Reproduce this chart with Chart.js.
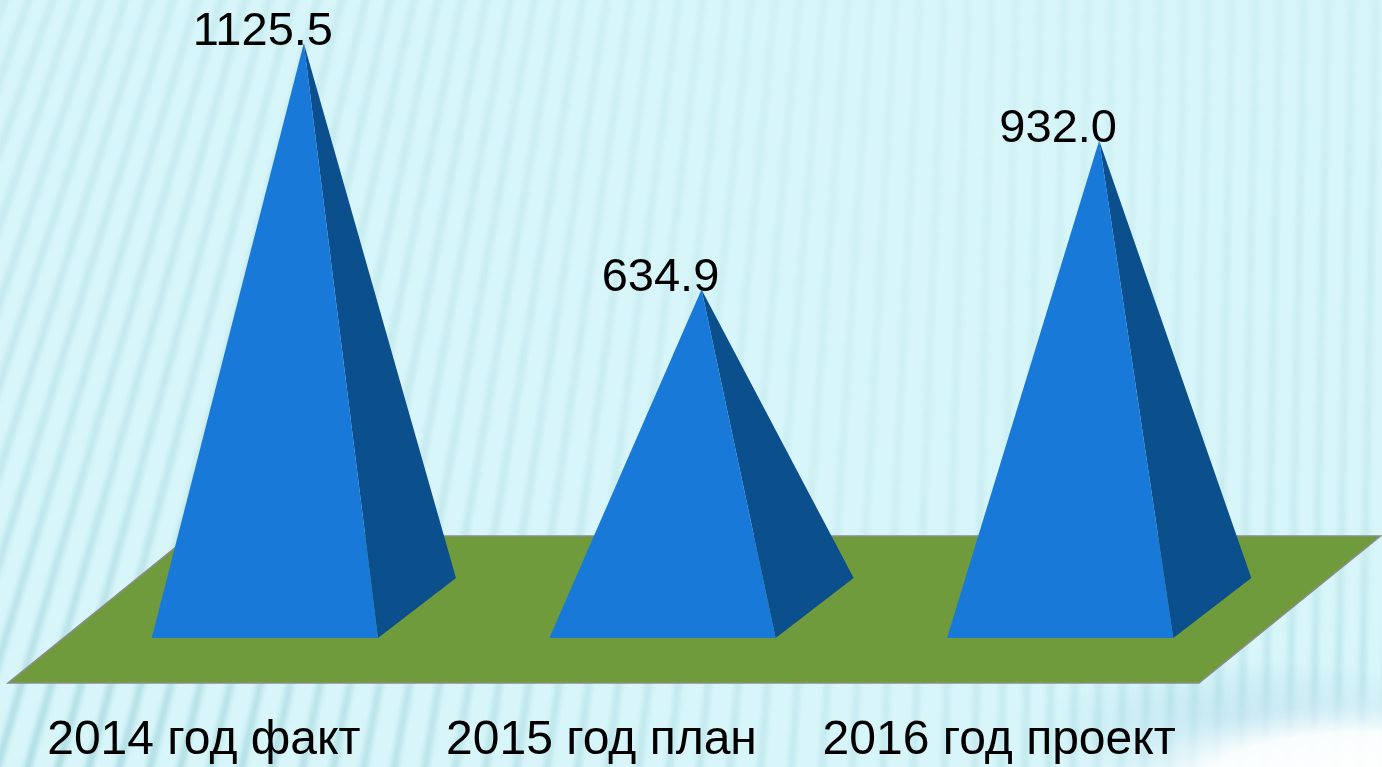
<!DOCTYPE html>
<html>
<head>
<meta charset="utf-8">
<script src="https://cdn.jsdelivr.net/npm/chart.js@4.4.1/dist/chart.umd.min.js"></script>
<style>
  html, body { margin: 0; padding: 0; background: #d7f5f8; }
  #wrap { width: 1382px; height: 767px; position: relative; }
</style>
</head>
<body>
<div id="wrap"><canvas id="c" width="1382" height="767"></canvas></div>
<script>
// ---- data ----
const categories = ['2014 год факт', '2015 год план', '2016 год проект'];
const values = [1125.5, 634.9, 932.0];
const yMin = 0;
const yMax = 1200;

// ---- colours ----
const frontColor = '#1879d9';
const sideColor = '#0b4f8c';
const floorColor = '#6f9b3d';
const floorEdge = '#8c8c8c';

const FONT = '"Liberation Sans", Arial, sans-serif';

const backgroundPlugin = {
  id: 'bg',
  beforeDraw(chart) {
    const ctx = chart.ctx;
    const W = chart.width, H = chart.height;
    ctx.save();
    ctx.fillStyle = '#d8f6f9';
    ctx.fillRect(0, 0, W, H);
    // stripes
    ctx.filter = 'blur(2.5px)';
    for (let xt = -400; xt < W + 60; xt += 24) {
      const xm = xt;
      const t = Math.max(0, 1 - Math.max(0, xm) / 1000);
      const s = 0.36 * t + 0.02;
      const xb = xt - s * H;
      let a;
      if (xm < 300) a = 0.42;
      else if (xm < 900) a = 0.42 - (xm - 300) / 600 * 0.24;
      else a = 0.18 + (xm - 900) / 500 * 0.1;
      const g = ctx.createLinearGradient(0, 0, 0, H);
      g.addColorStop(0, 'rgba(150,205,212,' + (a * 0.6).toFixed(3) + ')');
      g.addColorStop(0.6, 'rgba(150,205,212,' + (a * 0.9).toFixed(3) + ')');
      g.addColorStop(1, 'rgba(140,200,210,' + Math.min(1, a * 1.4).toFixed(3) + ')');
      ctx.strokeStyle = g;
      ctx.lineWidth = 7;
      ctx.beginPath();
      ctx.moveTo(xt, -10);
      ctx.lineTo(xb, H + 10);
      ctx.stroke();
    }
    ctx.filter = 'none';
    // bluish haze near bottom right
    ctx.save();
    ctx.translate(1250, 720);
    ctx.scale(1.8, 0.5);
    let hz = ctx.createRadialGradient(0, 0, 0, 0, 0, 120);
    hz.addColorStop(0, 'rgba(140,195,220,0.35)');
    hz.addColorStop(1, 'rgba(140,195,220,0)');
    ctx.fillStyle = hz;
    ctx.beginPath();
    ctx.arc(0, 0, 120, 0, Math.PI * 2);
    ctx.fill();
    ctx.restore();
    // bottom-right glow
    ctx.save();
    ctx.translate(1360, 790);
    ctx.scale(1.7, 0.6);
    let rg = ctx.createRadialGradient(0, 0, 0, 0, 0, 190);
    rg.addColorStop(0, 'rgba(255,255,255,1)');
    rg.addColorStop(0.5, 'rgba(255,255,255,0.9)');
    rg.addColorStop(0.75, 'rgba(220,240,248,0.4)');
    rg.addColorStop(1, 'rgba(220,240,248,0)');
    ctx.fillStyle = rg;
    ctx.beginPath();
    ctx.arc(0, 0, 190, 0, Math.PI * 2);
    ctx.fill();
    ctx.restore();
    ctx.restore();
  }
};

const pyramidPlugin = {
  id: 'pyramids',
  afterDatasetsDraw(chart) {
    const ctx = chart.ctx;
    const meta = chart.getDatasetMeta(0);
    const area = chart.chartArea;
    const yBase = chart.scales.y.getPixelForValue(0);
    ctx.save();
    // floor
    const fl = area.left - 97, fr = area.right - 99;
    const fy = yBase + 75, by = yBase - 72;
    const dxs = (fy - by) * 1.235;
    ctx.beginPath();
    ctx.moveTo(fl, fy);
    ctx.lineTo(fr, fy);
    ctx.lineTo(fr + dxs, by);
    ctx.lineTo(fl + dxs, by);
    ctx.closePath();
    ctx.fillStyle = floorColor;
    ctx.fill();
    ctx.lineWidth = 1.5;
    ctx.strokeStyle = floorEdge;
    ctx.stroke();

    // pyramids
    const dX = -39, dY = 30; // depth half-vector (towards viewer)
    meta.data.forEach((el, i) => {
      const x = el.x, top = el.y, base = el.base;
      const w = el.width / 2;
      const fL = [x - w + dX, base + dY];
      const fR = [x + w + dX, base + dY];
      const bR = [x + w - dX, base - dY];
      const apex = [x, top];
      ctx.beginPath();
      ctx.moveTo(fR[0], fR[1]);
      ctx.lineTo(bR[0], bR[1]);
      ctx.lineTo(apex[0], apex[1]);
      ctx.closePath();
      ctx.fillStyle = sideColor;
      ctx.fill();
      ctx.beginPath();
      ctx.moveTo(fL[0], fL[1]);
      ctx.lineTo(fR[0], fR[1]);
      ctx.lineTo(apex[0], apex[1]);
      ctx.closePath();
      ctx.fillStyle = frontColor;
      ctx.fill();
      ctx.fillStyle = '#000';
      ctx.font = '47px ' + FONT;
      ctx.textAlign = 'center';
      ctx.textBaseline = 'alphabetic';
      ctx.fillText(values[i].toFixed(1), x - 41, top + 2);
    });
    ctx.restore();
  }
};

new Chart(document.getElementById('c'), {
  type: 'bar',
  data: {
    labels: categories,
    datasets: [{
      data: values,
      backgroundColor: 'rgba(0,0,0,0)',
      borderWidth: 0,
      categoryPercentage: 1.0,
      barPercentage: 0.569
    }]
  },
  options: {
    responsive: false,
    animation: false,
    devicePixelRatio: 1,
    layout: { padding: { left: 105, right: 84, top: 6, bottom: 0 } },
    plugins: { legend: { display: false }, tooltip: { enabled: false } },
    scales: {
      x: {
        grid: { display: false, drawTicks: false },
        border: { display: false },
        afterFit(scale) {
          scale.height = 159;
          scale.paddingLeft = 0;
          scale.paddingRight = 0;
        },
        ticks: {
          color: '#000',
          font: { family: FONT, size: 48 },
          padding: 104,
          labelOffset: -100,
          maxRotation: 0,
          autoSkip: false
        }
      },
      y: {
        display: false,
        min: yMin,
        max: yMax
      }
    }
  },
  plugins: [backgroundPlugin, pyramidPlugin]
});
</script>
</body>
</html>
